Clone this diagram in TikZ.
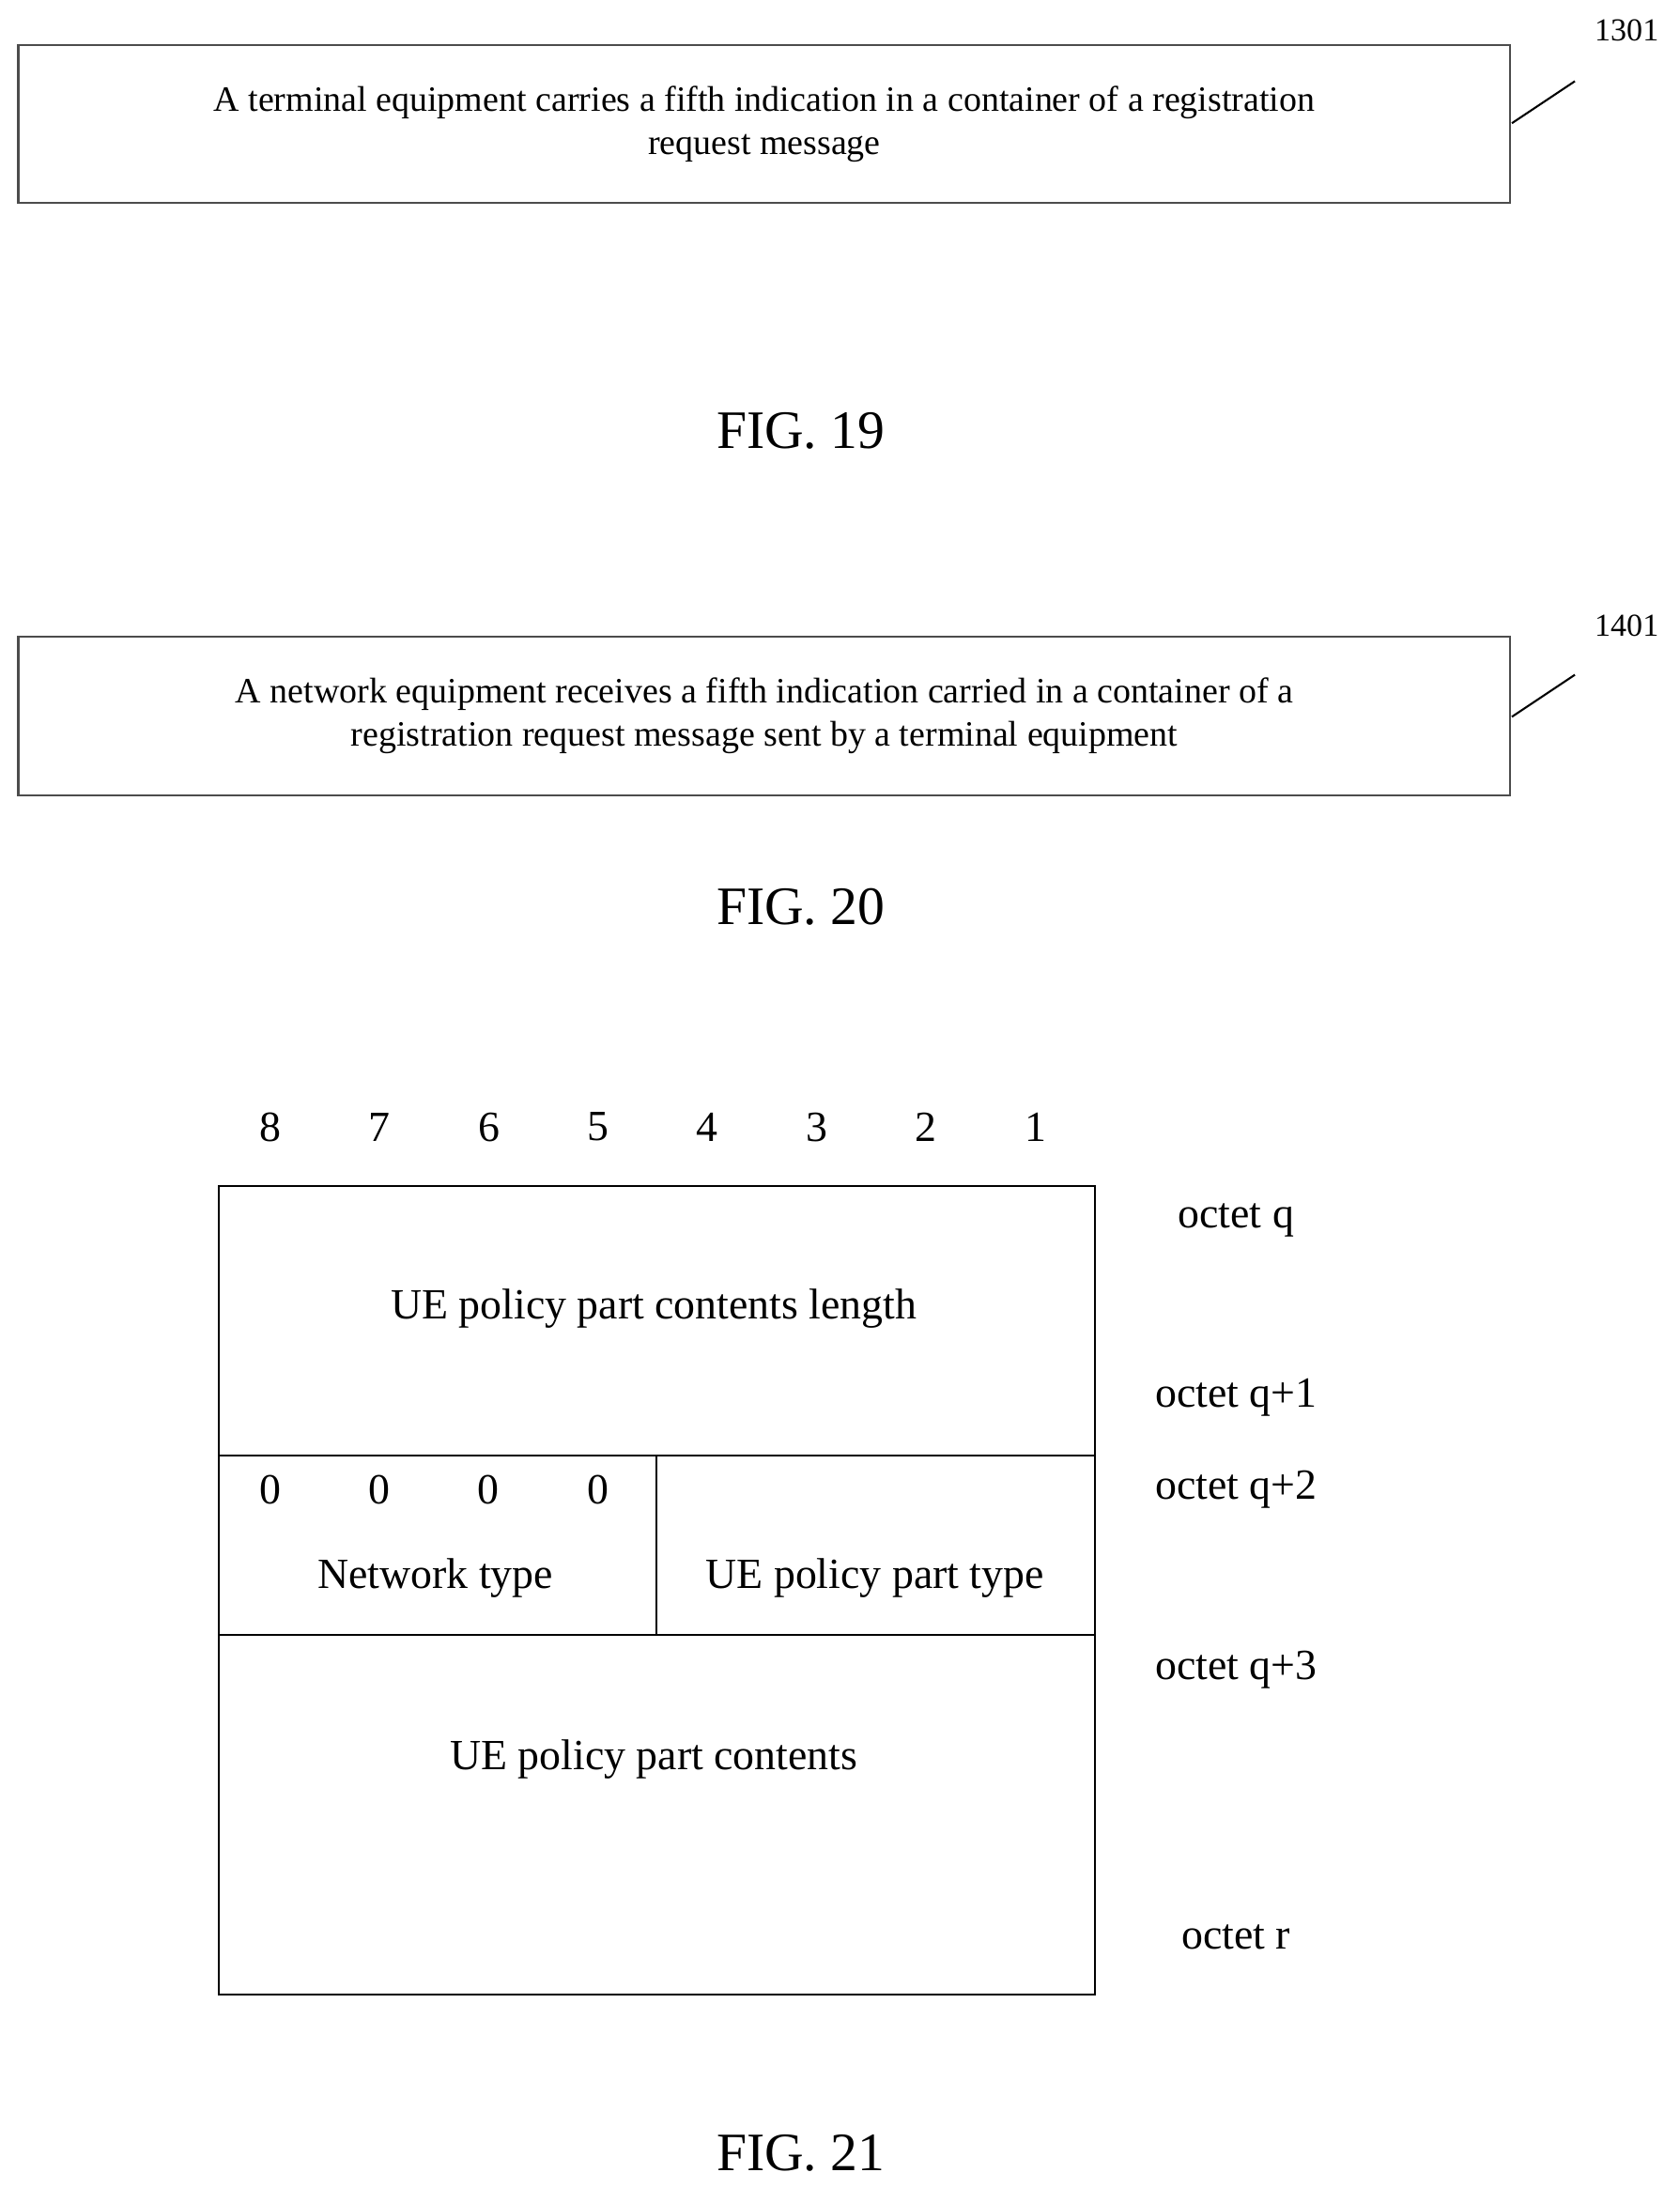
\documentclass[tikz,border=0pt]{standalone}
\usepackage{fontspec}
\setmainfont{Liberation Serif}
\usetikzlibrary{positioning}

\tikzset{
    stepbox/.style={draw=black!70, thick, minimum width=21.32cm, minimum height=2.26cm,
                 align=center, font=\fontsize{14.5}{17.6}\selectfont},
    ref/.style={font=\fontsize{13}{15}\selectfont},
    fig/.style={font=\fontsize{22}{26}\selectfont},
    cell/.style={font=\fontsize{17.5}{20}\selectfont}
}

\begin{document}
\begin{tikzpicture}[x=0.02cm, y=-0.02cm]
    \useasboundingbox (0,0) rectangle (1200,1563);
    % FIG. 19
    \node[stepbox] (s1301) at (546,88.5) {A terminal equipment carries a fifth indication in a container of a registration\\request message};
    \node[ref] (n1301) at (1162,22) {1301};
    \coordinate (a1301) at (1080,88);
    \coordinate (b1301) at (1125,58);
    \draw[thick] (a1301) -- (b1301);
    \node[fig] (f19) at (572,308) {FIG. 19};
    % FIG. 20
    \node[stepbox] (s1401) at (546,511.5) {A network equipment receives a fifth indication carried in a container of a\\registration request message sent by a terminal equipment};
    \node[ref] (n1401) at (1162,447) {1401};
    \coordinate (a1401) at (1080,512);
    \coordinate (b1401) at (1125,482);
    \draw[thick] (a1401) -- (b1401);
    \node[fig] (f20) at (572,648) {FIG. 20};
    % FIG. 21 table
    \draw[thick] (156,847) rectangle (782,1425);
    \draw[thick] (156,1040) -- (782,1040);
    \draw[thick] (156,1168) -- (782,1168);
    \draw[thick] (469,1040) -- (469,1168);
    \foreach \b [count=\i from 0] in {8,7,6,5,4,3,2,1}
        \node[cell] (bit\b) at (193+78.1*\i,805) {\b};
    \foreach \i in {0,1,2,3}
        \node[cell] (z\i) at (193+78*\i,1064) {0};
    \node[cell] (len) at (467,935) {UE policy part contents length};
    \node[cell] (ntype) at (311,1127) {Network type};
    \node[cell] (ptype) at (625,1127) {UE policy part type};
    \node[cell] (cont) at (467,1257) {UE policy part contents};
    % octet labels
    \node[cell] (oq) at (883,872) {octet q};
    \node[cell] (oq1) at (883,998) {octet q+1};
    \node[cell] (oq2) at (883,1064) {octet q+2};
    \node[cell] (oq3) at (883,1193) {octet q+3};
    \node[cell] (or) at (883,1384) {octet r};
    \node[fig] (f21) at (572,1538) {FIG. 21};
\end{tikzpicture}
\end{document}
